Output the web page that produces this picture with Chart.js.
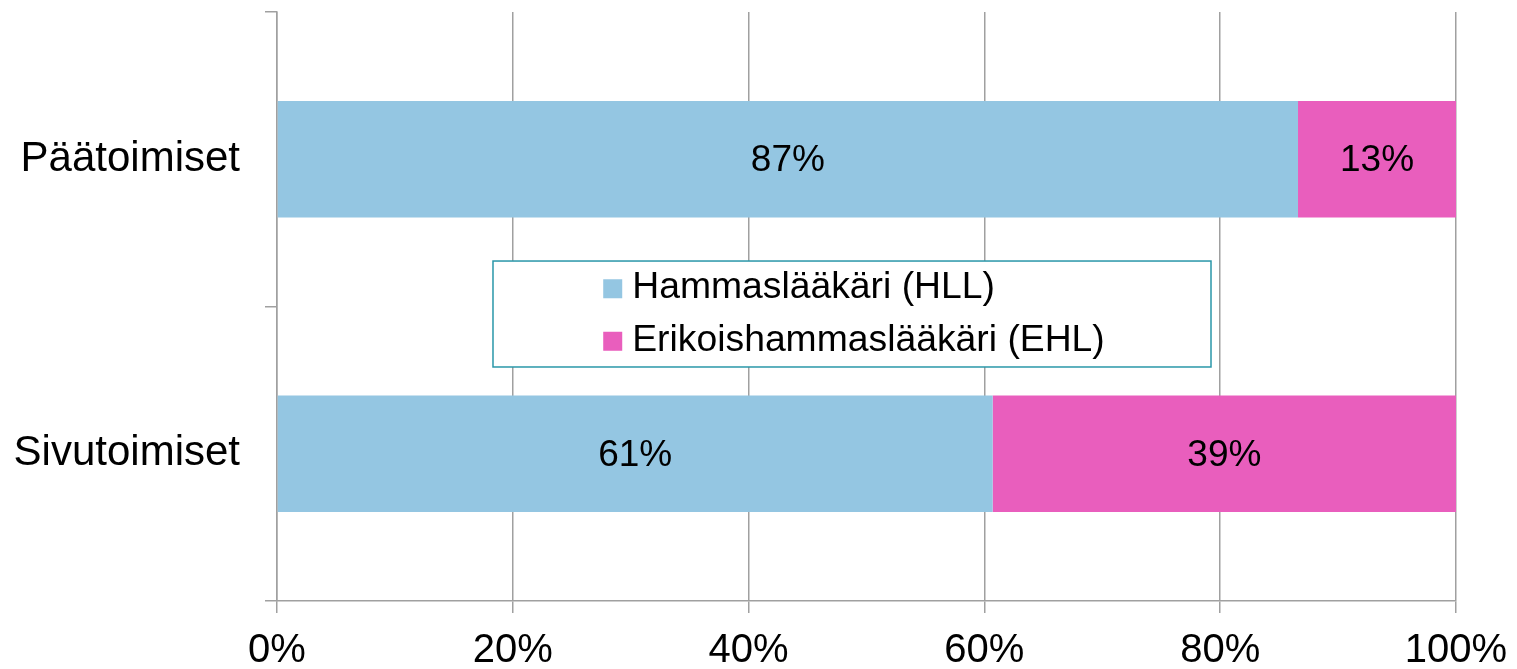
<!DOCTYPE html>
<html>
<head>
<meta charset="utf-8">
<script src="https://cdn.jsdelivr.net/npm/chart.js@4.4.0/dist/chart.umd.min.js"></script>
<style>
  html, body { margin: 0; padding: 0; background: #ffffff; }
  #wrap { width: 1517px; height: 669px; }
</style>
</head>
<body>
<div id="wrap"><canvas id="c" width="1517" height="669"></canvas></div>
<script>
// ---- data ----
const categories = ['Päätoimiset', 'Sivutoimiset'];
const seriesNames = ['Hammaslääkäri (HLL)', 'Erikoishammaslääkäri (EHL)'];
const hllValues = [86.6, 60.7];
const ehlValues = [13.4, 39.3];
const xTickValues = [0, 20, 40, 60, 80, 100];

const FONT = "'Liberation Sans', Arial, sans-serif";
const GRID = '#a0a0a0';

const barLabelPlugin = {
  id: 'barLabels',
  afterDatasetsDraw(chart) {
    const ctx = chart.ctx;
    ctx.save();
    ctx.font = '37px ' + FONT;
    ctx.fillStyle = '#000000';
    ctx.textAlign = 'center';
    ctx.textBaseline = 'middle';
    chart.data.datasets.forEach((ds, di) => {
      const meta = chart.getDatasetMeta(di);
      meta.data.forEach((bar, i) => {
        const v = ds.data[i];
        const cx = (bar.x + bar.base) / 2;
        ctx.fillText(Math.round(v) + '%', cx, bar.y + 2);
      });
    });
    ctx.restore();
  }
};

const boxLegendPlugin = {
  id: 'boxLegend',
  afterDraw(chart, args, opts) {
    const ctx = chart.ctx;
    const a = chart.chartArea;
    const x1 = a.left + (a.right - a.left) * opts.left;
    const x2 = a.left + (a.right - a.left) * opts.right;
    const y1 = a.top + (a.bottom - a.top) * opts.top;
    const y2 = a.top + (a.bottom - a.top) * opts.bottom;
    ctx.save();
    ctx.fillStyle = '#ffffff';
    ctx.fillRect(x1, y1, x2 - x1, y2 - y1);
    ctx.strokeStyle = opts.borderColor;
    ctx.lineWidth = 1.5;
    ctx.strokeRect(x1, y1, x2 - x1, y2 - y1);
    ctx.font = opts.fontSize + 'px ' + FONT;
    ctx.textBaseline = 'middle';
    ctx.textAlign = 'left';
    const items = chart.data.datasets;
    let maxW = 0;
    items.forEach(d => { maxW = Math.max(maxW, ctx.measureText(d.label).width); });
    const sw = opts.swatch, gap = opts.gap;
    const blockW = sw + gap + maxW;
    const sx = (x1 + x2) / 2 - blockW / 2 + 2;
    const rowH = opts.rowHeight;
    const cy0 = (y1 + y2) / 2 - rowH * (items.length - 1) / 2;
    items.forEach((d, i) => {
      const cy = cy0 + i * rowH;
      ctx.fillStyle = d.backgroundColor;
      ctx.fillRect(sx, cy - sw / 2 + 1, sw, sw);
      ctx.fillStyle = '#000000';
      ctx.fillText(d.label, sx + sw + gap, cy);
    });
    ctx.restore();
  }
};

new Chart(document.getElementById('c'), {
  type: 'bar',
  data: {
    labels: categories,
    datasets: [
      { label: seriesNames[0], data: hllValues, backgroundColor: '#94C6E2' },
      { label: seriesNames[1], data: ehlValues, backgroundColor: '#E95EBD' }
    ]
  },
  options: {
    indexAxis: 'y',
    responsive: false,
    animation: false,
    events: [],
    layout: { padding: { top: 12, right: 61, bottom: 0, left: 0 } },
    datasets: { bar: { categoryPercentage: 1, barPercentage: 0.395, borderWidth: 0 } },
    plugins: {
      legend: { display: false },
      tooltip: { enabled: false },
      boxLegend: {
        left: 0.1832, right: 0.7922, top: 0.4228, bottom: 0.6027,
        borderColor: '#2a97a9', fontSize: 37.3, swatch: 19, gap: 10, rowHeight: 52.5
      }
    },
    scales: {
      x: {
        stacked: true,
        min: 0, max: 100,
        afterBuildTicks(scale) { scale.ticks = xTickValues.map(v => ({ value: v })); },
        afterFit(scale) { scale.height = 68; scale.paddingLeft = 0; scale.paddingRight = 0; },
        ticks: {
          callback: v => v + '%',
          color: '#000000',
          font: { size: 40, family: FONT },
          padding: 14,
          maxRotation: 0
        },
        grid: { color: GRID, lineWidth: 1.5, tickLength: 12, drawTicks: true },
        border: { color: GRID, width: 1.5 }
      },
      y: {
        stacked: true,
        afterFit(scale) { scale.width = 277; scale.paddingTop = 0; scale.paddingBottom = 0; },
        ticks: {
          color: '#000000',
          font: { size: 42, family: FONT },
          padding: 25
        },
        grid: { color: GRID, lineWidth: 1.5, tickLength: 12, drawOnChartArea: false, offset: true },
        border: { color: GRID, width: 1.5 }
      }
    }
  },
  plugins: [barLabelPlugin, boxLegendPlugin]
});
</script>
</body>
</html>
